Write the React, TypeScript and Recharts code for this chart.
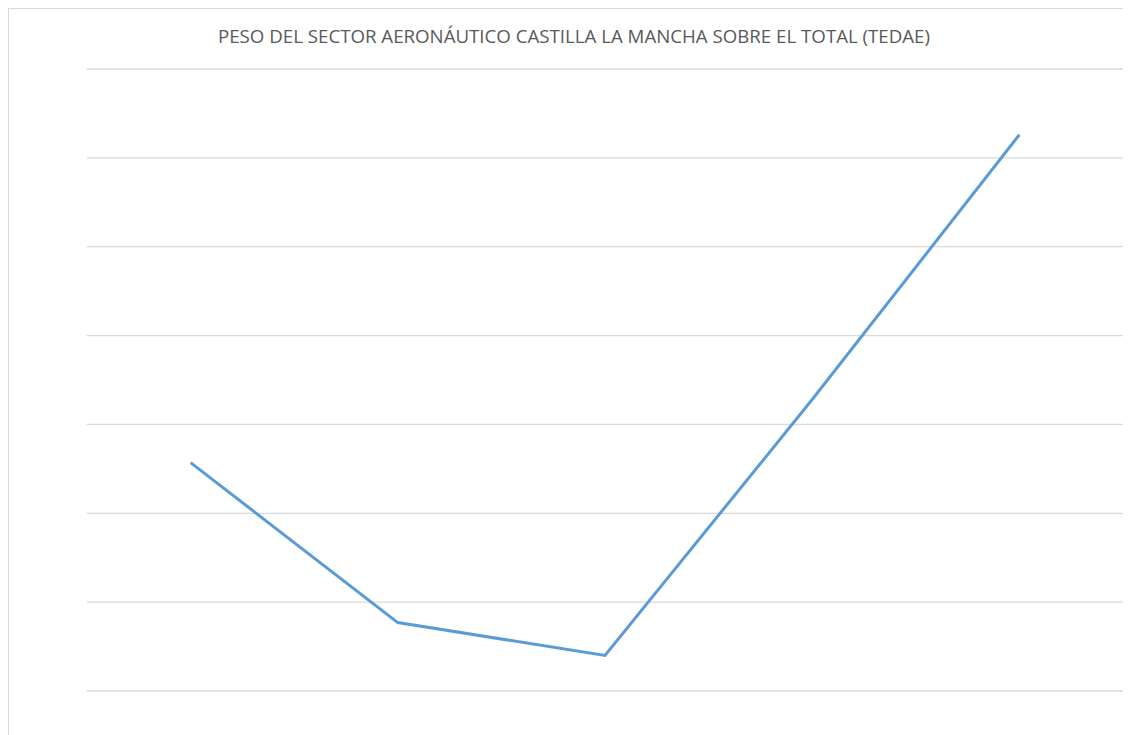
import React from "react";
import { LineChart, Line, XAxis, YAxis, CartesianGrid } from "recharts";

// years are not shown on the chart, only used as category keys
const years = ["2012", "2013", "2014", "2015", "2016"];
const peso = [2.57, 0.77, 0.4, 3.28, 6.26];
const yTicks = [0, 1, 2, 3, 4, 5, 6, 7];

const TITLE = "PESO DEL SECTOR AERONÁUTICO CASTILLA LA MANCHA SOBRE EL TOTAL (TEDAE)";

const data = years.map((year, i) => ({ year, peso: peso[i] }));

const App = () => {
  return (
    <div
      style={{
        width: 1140,
        height: 740,
        borderTop: "1px solid #d9d9d9",
        borderLeft: "1px solid #d9d9d9",
        background: "#fff",
      }}
    >
      <style>{"body{overflow:hidden}"}</style>
      <LineChart
        width={1140}
        height={740}
        data={data}
        margin={{ top: 60, right: 26, left: 78, bottom: 58 }}
      >
        <text
          x={565}
          y={34}
          textAnchor="middle"
          fill="#595959"
          fontSize={18}
          fontFamily="'Open Sans', sans-serif"
          textLength={712}
          lengthAdjust="spacingAndGlyphs"
        >
          {TITLE}
        </text>
        <CartesianGrid vertical={false} stroke="#d9d9d9" strokeWidth={1.3} />
        <XAxis
          dataKey="year"
          padding={{ left: 103.6, right: 103.6 }}
          axisLine={{ stroke: "#d9d9d9", strokeWidth: 1.3 }}
          tickLine={false}
          tick={{ fill: "transparent", fontSize: 1 }}
          height={0}
        />
        <YAxis
          domain={[0, 7]}
          ticks={yTicks}
          interval={0}
          width={0}
          axisLine={false}
          tickLine={false}
          tick={{ fill: "transparent", fontSize: 1 }}
        />
        <Line
          type="linear"
          dataKey="peso"
          stroke="#5b9bd5"
          strokeWidth={3}
          dot={false}
          activeDot={false}
          isAnimationActive={false}
        />
      </LineChart>
    </div>
  );
};

export default App;
